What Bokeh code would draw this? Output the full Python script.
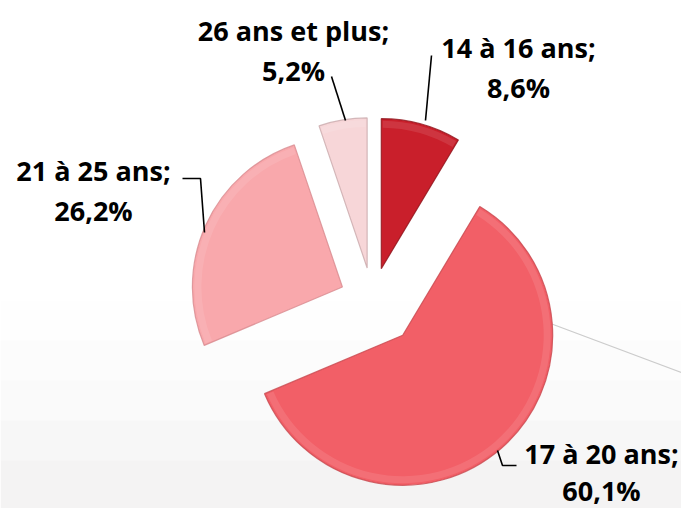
import math
from bokeh.plotting import figure
from bokeh.models import Range1d
from bokeh.core.properties import value
from bokeh.embed import file_html
from bokeh.resources import INLINE

# ---- data ----
categories = ["14 à 16 ans", "17 à 20 ans", "21 à 25 ans", "26 ans et plus"]
shares = [8.6, 60.1, 26.2, 5.2]
pct_labels = ["8,6%", "60,1%", "26,2%", "5,2%"]

# ---- style ----
colors = ["#C91F2B", "#F25F67", "#F9A8AC", "#F7D6D8"]
edge_colors = ["#8E1219", "#C8474E", "#D88A8E", "#C9A9AB"]
explode = [33, 46, 33, 33]           # px offset along bisector
W, H = 681, 508
cx, cy_pix = 372, 300                 # pie centre in page pixels
R = 150

def Y(ypix):
    return 516 - ypix

p = figure(width=W, height=H, output_backend="svg", toolbar_location=None,
           x_range=Range1d(0, 681), y_range=Range1d(8, 516),
           min_border=0)
p.axis.visible = False
p.grid.visible = False
p.outline_line_color = None
p.background_fill_color = "white"
p.border_fill_color = "white"

# faint background texture toward the bottom
bands_top = [300, 340, 380, 420, 460]
bands_alpha = [0.012, 0.02, 0.028, 0.036, 0.044]
for t, a in zip(bands_top, bands_alpha):
    p.quad(left=0, right=689, top=Y(t), bottom=Y(516), fill_color="#b0a8a8",
           fill_alpha=a, line_color=None)
p.line([550, 689], [Y(323), Y(375)], line_color="#cccccc", line_width=1.2)

# wedges
total = sum(shares)
cum = 0.0
for i, s in enumerate(shares):
    t1 = cum / total * 2 * math.pi           # clockwise from north
    t2 = (cum + s) / total * 2 * math.pi
    cum += s
    mid = (t1 + t2) / 2
    ox = cx + explode[i] * math.sin(mid)
    oy = Y(cy_pix) + explode[i] * math.cos(mid)
    start = math.pi / 2 - t2
    end = math.pi / 2 - t1
    p.wedge(x=ox, y=oy, radius=R, start_angle=start, end_angle=end,
            direction="anticlock", fill_color=colors[i],
            line_color=edge_colors[i], line_width=1.2, line_alpha=0.8)
    # soft highlight band along the outer rim
    p.annular_wedge(x=ox, y=oy, inner_radius=R - 9, outer_radius=R - 2,
                    start_angle=start + 0.01, end_angle=end - 0.01,
                    direction="anticlock", fill_color="white", fill_alpha=0.10,
                    line_color=None)

# labels
font = value("Open Sans")
lab_x = [518, 601, 93, 293]
lab_y1 = [47, 453, 170, 30]
lab_gap = [40, 37, 40, 40]
for i in range(4):
    p.text(x=[lab_x[i]], y=[Y(lab_y1[i])], text=[categories[i] + ";"],
           text_font=font, text_font_style="bold", text_font_size="27px",
           text_align="center", text_baseline="middle", text_color="black")
    p.text(x=[lab_x[i]], y=[Y(lab_y1[i] + lab_gap[i])], text=[pct_labels[i]],
           text_font=font, text_font_style="bold", text_font_size="27px",
           text_align="center", text_baseline="middle", text_color="black")

# leader lines
leaders = [
    ([431, 425], [55, 120]),
    ([497, 502, 516], [450, 465, 465]),
    ([182, 200, 204], [178, 178, 232]),
    ([331, 345], [76, 120]),
]
for xs, ys in leaders:
    p.line(xs, [Y(v) for v in ys], line_color="black", line_width=1.6)

open("out.html", "w").write(file_html(p, INLINE))
